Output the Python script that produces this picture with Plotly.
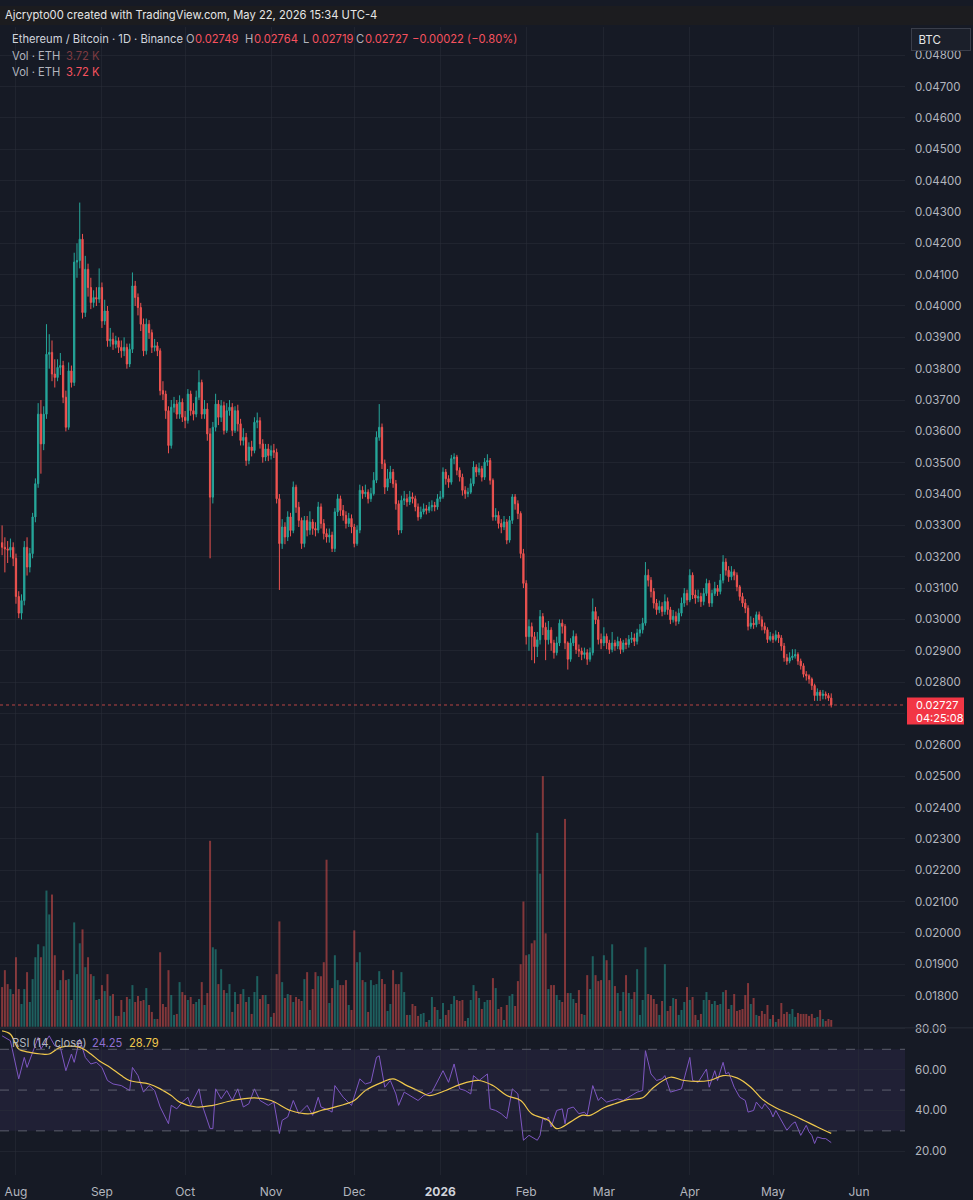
import pandas as pd
import plotly.graph_objects as go

W, H = 973, 1200

# ---------------- data (prices in units of 1e-5 BTC) ----------------
start_date = "2025-07-27"
first_open_e5 = 3245
close_e5 = [
    3230, 3225, 3221, 3230, 3195, 3073, 3020, 3060, 3230, 3167,
    3210, 3327, 3433, 3655, 3560, 3655, 3846, 3852, 3783, 3772,
    3804, 3810, 3709, 3613, 3793, 3756, 4140, 4145, 4213, 3979,
    4117, 4059, 4011, 4027, 4022, 4059, 3952, 3984, 3889, 3894,
    3878, 3889, 3868, 3857, 3868, 3815, 3862, 4064, 4027, 3995,
    3942, 3857, 3942, 3915, 3868, 3873, 3857, 3730, 3719, 3666,
    3555, 3677, 3687, 3655, 3693, 3645, 3635, 3719, 3666, 3655,
    3709, 3756, 3655, 3671, 3592, 3390, 3613, 3687, 3645, 3682,
    3603, 3666, 3677, 3603, 3666, 3624, 3571, 3581, 3507, 3550,
    3539, 3629, 3634, 3560, 3518, 3544, 3523, 3539, 3533, 3385,
    3242, 3295, 3263, 3327, 3284, 3422, 3358, 3316, 3242, 3316,
    3285, 3311, 3290, 3285, 3359, 3306, 3274, 3263, 3269, 3226,
    3343, 3385, 3348, 3332, 3306, 3322, 3295, 3242, 3285, 3412,
    3401, 3406, 3385, 3401, 3444, 3581, 3613, 3497, 3422, 3449,
    3470, 3433, 3369, 3285, 3380, 3385, 3375, 3391, 3385, 3359,
    3327, 3343, 3353, 3348, 3359, 3364, 3359, 3385, 3391, 3470,
    3449, 3438, 3513, 3518, 3476, 3454, 3412, 3401, 3406, 3433,
    3486, 3470, 3481, 3454, 3502, 3507, 3444, 3327, 3332, 3306,
    3295, 3311, 3253, 3316, 3391, 3369, 3338, 3210, 3115, 2945,
    2977, 2945, 2913, 2935, 3009, 2975, 2935, 2966, 2925, 2894,
    2925, 2988, 2978, 2925, 2873, 2925, 2946, 2904, 2899, 2888,
    2894, 2873, 2894, 3025, 2999, 2936, 2925, 2946, 2925, 2904,
    2925, 2915, 2930, 2904, 2925, 2920, 2936, 2941, 2930, 2957,
    2967, 2988, 3141, 3125, 3089, 3052, 3031, 3041, 3025, 3057,
    3031, 2999, 3010, 2994, 3020, 3052, 3083, 3062, 3141, 3078,
    3068, 3073, 3057, 3083, 3115, 3052, 3083, 3099, 3089, 3125,
    3183, 3157, 3136, 3152, 3141, 3104, 3073, 3052, 3036, 2978,
    2988, 2983, 3015, 2999, 2978, 2967, 2936, 2946, 2936, 2951,
    2941, 2915, 2878, 2867, 2878, 2883, 2888, 2867, 2852, 2825,
    2820, 2810, 2789, 2757, 2768, 2757, 2762, 2757, 2749, 2727,
]
high_e5 = [
    3300, 3262, 3250, 3258, 3246, 3210, 3090, 3080, 3250, 3262,
    3228, 3340, 3450, 3690, 3700, 3680, 3942, 3910, 3890, 3830,
    3830, 3850, 3825, 3730, 3820, 3810, 4170, 4200, 4330, 4230,
    4160, 4135, 4090, 4050, 4060, 4120, 4075, 4020, 4000, 3930,
    3915, 3905, 3900, 3890, 3900, 3880, 3880, 4107, 4080, 4040,
    4010, 3960, 3960, 3955, 3925, 3895, 3885, 3865, 3760, 3730,
    3680, 3700, 3710, 3700, 3715, 3705, 3665, 3735, 3730, 3690,
    3730, 3795, 3765, 3700, 3690, 3610, 3630, 3720, 3700, 3700,
    3695, 3690, 3700, 3690, 3680, 3685, 3640, 3610, 3595, 3565,
    3570, 3645, 3660, 3645, 3575, 3560, 3560, 3555, 3560, 3545,
    3400, 3320, 3310, 3345, 3340, 3440, 3430, 3375, 3325, 3330,
    3330, 3345, 3320, 3310, 3375, 3370, 3320, 3290, 3290, 3280,
    3355, 3400, 3395, 3365, 3345, 3340, 3335, 3305, 3300, 3430,
    3425, 3430, 3415, 3420, 3470, 3600, 3687, 3625, 3510, 3480,
    3490, 3480, 3445, 3380, 3395, 3410, 3400, 3410, 3405, 3395,
    3370, 3360, 3370, 3365, 3375, 3380, 3375, 3400, 3410, 3485,
    3480, 3460, 3525, 3530, 3525, 3485, 3465, 3425, 3420, 3450,
    3505, 3495, 3500, 3490, 3515, 3527, 3515, 3450, 3355, 3345,
    3320, 3330, 3320, 3330, 3400, 3400, 3380, 3345, 3225, 3125,
    3000, 2990, 2960, 2960, 3030, 3020, 2990, 2995, 2975, 2935,
    2945, 3000, 3000, 2985, 2930, 2940, 2965, 2955, 2920, 2910,
    2910, 2905, 2910, 3067, 3040, 3010, 2955, 2975, 2955, 2935,
    2960, 2935, 2945, 2940, 2935, 2940, 2950, 2960, 2955, 2970,
    2985, 3005, 3183, 3160, 3135, 3100, 3065, 3060, 3055, 3080,
    3070, 3040, 3030, 3025, 3035, 3070, 3100, 3095, 3160, 3150,
    3095, 3095, 3085, 3100, 3130, 3125, 3095, 3120, 3110, 3145,
    3205, 3195, 3170, 3170, 3160, 3150, 3110, 3085, 3065, 3045,
    3010, 3005, 3025, 3025, 3010, 2990, 2975, 2960, 2955, 2965,
    2960, 2950, 2925, 2890, 2895, 2905, 2905, 2895, 2875, 2860,
    2835, 2825, 2815, 2795, 2780, 2775, 2775, 2770, 2765, 2764,
]
low_e5 = [
    3205, 3150, 3180, 3198, 3170, 3050, 3004, 3000, 3045, 3140,
    3150, 3195, 3310, 3420, 3465, 3540, 3640, 3800, 3760, 3740,
    3760, 3780, 3690, 3600, 3605, 3740, 3745, 4090, 4120, 3960,
    3965, 4030, 3990, 3995, 4000, 4010, 3930, 3940, 3870, 3870,
    3860, 3865, 3850, 3835, 3840, 3800, 3805, 3850, 4000, 3970,
    3920, 3840, 3845, 3895, 3850, 3855, 3840, 3715, 3700, 3640,
    3530, 3545, 3660, 3640, 3640, 3630, 3610, 3625, 3650, 3635,
    3645, 3700, 3640, 3640, 3570, 3195, 3370, 3600, 3620, 3630,
    3590, 3595, 3650, 3585, 3595, 3600, 3555, 3555, 3490, 3495,
    3520, 3530, 3610, 3545, 3500, 3505, 3505, 3510, 3515, 3370,
    3094, 3225, 3240, 3250, 3265, 3275, 3340, 3295, 3225, 3230,
    3265, 3270, 3270, 3265, 3275, 3290, 3255, 3245, 3245, 3215,
    3215, 3330, 3330, 3315, 3290, 3295, 3275, 3230, 3235, 3275,
    3385, 3390, 3370, 3375, 3395, 3435, 3570, 3480, 3400, 3410,
    3435, 3420, 3350, 3270, 3275, 3365, 3360, 3365, 3370, 3345,
    3315, 3320, 3335, 3335, 3340, 3345, 3345, 3350, 3375, 3385,
    3430, 3420, 3430, 3495, 3460, 3440, 3395, 3385, 3390, 3400,
    3425, 3455, 3460, 3440, 3445, 3490, 3430, 3315, 3315, 3290,
    3275, 3285, 3240, 3245, 3305, 3350, 3320, 3195, 3100, 2920,
    2900, 2870, 2860, 2880, 2920, 2950, 2870, 2920, 2900, 2875,
    2885, 2915, 2955, 2905, 2840, 2865, 2915, 2890, 2880, 2870,
    2875, 2855, 2865, 2885, 2985, 2920, 2905, 2915, 2905, 2890,
    2895, 2900, 2905, 2890, 2895, 2905, 2910, 2925, 2915, 2920,
    2945, 2955, 2980, 3105, 3070, 3035, 3015, 3020, 3010, 3015,
    3015, 2985, 2990, 2980, 2985, 3010, 3040, 3045, 3055, 3065,
    3050, 3055, 3040, 3045, 3075, 3040, 3040, 3075, 3075, 3080,
    3115, 3140, 3120, 3125, 3125, 3090, 3060, 3040, 3020, 2965,
    2970, 2970, 2975, 2985, 2965, 2955, 2925, 2930, 2925, 2930,
    2925, 2900, 2865, 2855, 2860, 2870, 2875, 2855, 2840, 2815,
    2805, 2795, 2775, 2740, 2740, 2740, 2745, 2745, 2740, 2719,
]
# daily volume (relative units)
volume = [
    40,
    57, 43, 38, 33, 70, 38, 23, 38, 55, 25,
    48, 70, 83, 70, 81, 137, 113, 133, 72, 37,
    47, 57, 47, 48, 27, 105, 53, 84, 98, 60,
    70, 53, 51, 27, 28, 42, 36, 53, 31, 33,
    11, 11, 27, 15, 30, 28, 42, 25, 31, 26,
    27, 39, 22, 15, 8, 8, 75, 23, 20, 57,
    32, 12, 13, 45, 35, 32, 27, 30, 23, 25,
    28, 45, 22, 34, 187, 80, 78, 43, 58, 37,
    34, 43, 15, 35, 23, 33, 38, 25, 30, 13,
    35, 51, 28, 32, 32, 23, 10, 14, 53, 106,
    45, 29, 33, 32, 25, 30, 28, 26, 48, 55,
    17, 38, 55, 51, 51, 65, 168, 24, 39, 72,
    47, 42, 42, 47, 22, 17, 97, 65, 75, 47,
    45, 15, 47, 42, 43, 56, 48, 43, 16, 23,
    57, 43, 43, 55, 35, 12, 12, 23, 21, 11,
    13, 14, 5, 7, 30, 20, 17, 8, 24, 12,
    17,
    23, 31, 27, 26, 27, 6, 9, 27, 42, 36,
    29, 18, 25, 27, 27, 49, 39, 18, 20, 7,
    22, 31, 33, 21, 46, 63, 126, 72, 73, 84,
    87, 195, 154, 252, 94, 38, 42, 42, 32, 27,
    25, 209, 34, 34, 28, 24, 37, 13, 12, 52,
    38, 71, 52, 46, 47, 72, 67, 47, 83, 41,
    34, 16, 35, 52, 34, 28, 35, 58, 12, 27,
    80, 33, 32, 28, 23, 12, 26, 63, 16, 21,
    29, 28, 12, 17, 25, 40, 27, 30, 12, 7,
    13, 27, 35, 27, 23, 26, 22, 23, 35, 37,
    18, 22, 33, 16, 17, 18, 32, 44, 23, 29,
    12, 11, 16, 13, 22, 8, 12, 5, 8, 24,
    13, 15, 13, 18, 10, 14, 13, 13, 13, 11,
    13, 9, 10, 17, 8, 6, 8, 7,
]
# RSI(14) readings: day index -> value
rsi_day = [0, 3, 6, 8, 9, 11, 13, 14, 17, 19, 21, 23, 25, 26, 28, 30, 32, 34, 36, 38,
           40, 43, 46, 47, 49, 51, 53, 55, 57, 60, 61, 63, 65, 67, 68, 71, 72, 75, 76, 77,
           79, 81, 83, 85, 87, 89, 91, 93, 96, 98, 100, 101, 103, 105, 106, 107, 110, 112, 114, 115,
           118, 119, 120, 123, 126, 129, 131, 133, 135, 136, 138, 140, 142, 143, 145, 147, 150, 152, 155, 159,
           161, 163, 165, 167, 169, 170, 172, 175, 176, 178, 180, 182, 184, 186, 188, 190, 191, 193, 194, 195,
           196, 197, 198, 200, 202, 203, 204, 206, 208, 210, 211, 213, 215, 216, 218, 220, 222, 224, 226, 229,
           231, 232, 234, 236, 238, 239, 241, 243, 245, 248, 249, 251, 254, 255, 257, 258, 260, 261, 262, 264,
           266, 268, 269, 271, 272, 274, 275, 277, 278, 279, 281, 283, 285, 286, 288, 290, 291, 292, 293, 294,
           296, 297, 299]
rsi_val = [76.6, 74.2, 55.5, 66.0, 61.1, 69.0, 75.8, 70.1, 76.6, 71.7, 70.9, 59.5, 67.7, 63.6, 75.0, 66.0, 62.8, 63.6, 61.1, 54.7,
           53.0, 52.2, 49.8, 61.1, 57.1, 49.0, 52.2, 49.8, 41.7, 33.5, 42.5, 40.8, 44.1, 46.5, 42.5, 50.6, 43.3, 31.1, 31.1, 50.6,
           45.7, 49.8, 44.9, 50.6, 41.7, 43.3, 50.6, 44.9, 42.5, 44.1, 28.7, 35.2, 36.8, 44.9, 41.7, 38.4, 42.5, 37.6, 46.5, 41.7,
           40.0, 39.2, 52.2, 46.5, 42.5, 55.5, 53.0, 53.8, 66.0, 66.8, 51.4, 54.7, 48.1, 42.5, 49.0, 47.3, 44.9, 47.3, 49.0, 59.5,
           53.8, 62.8, 50.6, 49.8, 48.1, 57.1, 54.7, 57.9, 40.8, 40.0, 38.4, 36.0, 50.6, 48.1, 25.4, 27.8, 27.0, 25.4, 27.8, 36.0,
           35.2, 36.8, 31.9, 40.0, 40.8, 33.5, 40.8, 41.7, 38.4, 39.2, 37.6, 52.2, 44.9, 46.5, 44.1, 44.9, 45.7, 44.9, 46.5, 49.0,
           49.8, 69.3, 57.9, 54.7, 55.5, 57.1, 49.0, 49.8, 50.6, 66.0, 54.7, 53.8, 60.3, 51.4, 59.5, 54.7, 63.6, 57.9, 58.7, 51.4,
           46.5, 44.9, 39.2, 40.0, 44.1, 40.8, 43.3, 40.0, 36.8, 40.0, 35.2, 30.3, 33.5, 34.4, 27.8, 32.7, 29.5, 27.8, 23.8, 27.0,
           26.2, 26.2, 24.25]
# RSI-based moving average readings
rsi_ma_day = [0, 3, 6, 10, 14, 17, 21, 28, 32, 35, 39, 43, 46, 53, 57, 61, 64, 70, 76, 83,
              91, 97, 104, 111, 115, 119, 127, 131, 137, 141, 146, 151, 154, 160, 165, 172, 177, 182, 187, 191,
              197, 200, 205, 209, 212, 217, 221, 226, 231, 235, 241, 246, 255, 260, 265, 270, 274, 279, 284, 289,
              294, 299]
rsi_ma_val = [79.0, 77.4, 70.1, 68.5, 67.7, 67.7, 70.9, 70.9, 67.7, 64.4, 61.1, 57.1, 54.7, 53.0, 50.6, 47.3, 44.1, 41.7, 42.5, 44.9,
              46.2, 44.9, 40.0, 38.4, 40.0, 41.3, 44.9, 49.8, 53.8, 55.5, 52.2, 49.0, 47.3, 49.8, 52.7, 54.7, 52.2, 47.3, 44.9, 38.4,
              35.2, 31.1, 34.4, 37.6, 37.6, 41.3, 43.3, 45.4, 46.2, 51.4, 56.3, 54.7, 54.7, 57.1, 56.0, 51.4, 45.7, 41.3, 38.4, 35.2,
              31.9, 28.79]

month_ticks = ["2025-08-01", "2025-09-01", "2025-10-01", "2025-11-01", "2025-12-01", "2026-01-01",
               "2026-02-01", "2026-03-01", "2026-04-01", "2026-05-01", "2026-06-01"]
month_labels = ["Aug", "Sep", "Oct", "Nov", "Dec", "<b><span style='color:#d1d4dc'>2026</span></b>",
                "Feb", "Mar", "Apr", "May", "Jun"]
# 0.02700 sits behind the last-price label, so its text is hidden (grid line kept)
price_ticks = [0.018, 0.019, 0.020, 0.021, 0.022, 0.023, 0.024, 0.025, 0.026, 0.027, 0.028,
               0.029, 0.030, 0.031, 0.032, 0.033, 0.034, 0.035, 0.036, 0.037, 0.038, 0.039,
               0.040, 0.041, 0.042, 0.043, 0.044, 0.045, 0.046, 0.047, 0.048]
price_tick_labels = ["0.01800", "0.01900", "0.02000", "0.02100", "0.02200", "0.02300", "0.02400",
                     "0.02500", "0.02600", "", "0.02800", "0.02900", "0.03000", "0.03100",
                     "0.03200", "0.03300", "0.03400", "0.03500", "0.03600", "0.03700", "0.03800",
                     "0.03900", "0.04000", "0.04100", "0.04200", "0.04300", "0.04400", "0.04500",
                     "0.04600", "0.04700", "0.04800"]
rsi_ticks = [20, 40, 60, 80]
rsi_tick_labels = ["20.00", "40.00", "60.00", "80.00"]
last_price = 0.02727

# ---------------- derived ----------------
E5 = 1e-5
dates = pd.date_range(start_date, periods=len(close_e5), freq="D")
open_e5 = [first_open_e5] + close_e5[:-1]
o = [v * E5 for v in open_e5]
c = [v * E5 for v in close_e5]
h = [v * E5 for v in high_e5]
l = [v * E5 for v in low_e5]

UP = "#26a69a"
DN = "#ef5350"
UP_V = "rgba(38,166,154,0.5)"
DN_V = "rgba(239,83,80,0.5)"
vol_colors = [UP_V if cc >= oo else DN_V for oo, cc in zip(o, c)]

BG = "#161a25"
GRID = "rgba(42,46,57,0.55)"
TXT = "#b2b5be"
FONT = "Inter"

def px(x):
    return x / W

def py(y):
    return 1 - y / H

t0 = pd.Timestamp(start_date)
x_range = [t0 + pd.Timedelta(days=-0.757), t0 + pd.Timedelta(days=325.6)]

fig = go.Figure()

fig.add_trace(go.Bar(
    x=dates, y=volume, marker=dict(color=vol_colors, line=dict(width=0)),
    width=0.72 * 86400000, xaxis="x", yaxis="y3", hoverinfo="skip", showlegend=False,
))
fig.add_trace(go.Candlestick(
    x=dates, open=o, high=h, low=l, close=c,
    increasing=dict(line=dict(color=UP, width=1), fillcolor=UP),
    decreasing=dict(line=dict(color=DN, width=1), fillcolor=DN),
    whiskerwidth=0, xaxis="x", yaxis="y", showlegend=False, hoverinfo="skip",
))
fig.add_trace(go.Scatter(
    x=[dates[d] for d in rsi_day], y=rsi_val, mode="lines",
    line=dict(color="#7e57c2", width=1), xaxis="x2", yaxis="y2", showlegend=False, hoverinfo="skip",
))
fig.add_trace(go.Scatter(
    x=[dates[d] for d in rsi_ma_day], y=rsi_ma_val, mode="lines", line_shape="spline",
    line=dict(color="#f0c84c", width=1.2), xaxis="x2", yaxis="y2", showlegend=False, hoverinfo="skip",
))

shapes = [
    # header bar
    dict(type="rect", xref="paper", yref="paper", x0=0, x1=1, y0=py(19), y1=1,
         fillcolor="#1c1c1f", line=dict(width=0), layer="below"),
    # RSI band
    dict(type="rect", xref="x2 domain", yref="y2", x0=0, x1=1, y0=30, y1=70,
         fillcolor="rgba(126,87,194,0.10)", line=dict(width=0), layer="below"),
    # pane separator
    dict(type="line", xref="paper", yref="paper", x0=0, x1=1, y0=py(1027), y1=py(1027),
         line=dict(color="#2a2e39", width=1)),
    # last price line
    dict(type="line", xref="x domain", yref="y", x0=0, x1=1, y0=last_price, y1=last_price,
         line=dict(color="rgba(239,83,80,0.75)", width=1, dash="dot")),
]
for lvl in (70, 50, 30):
    shapes.append(dict(type="line", xref="x2 domain", yref="y2", x0=0, x1=1, y0=lvl, y1=lvl,
                       line=dict(color="rgba(120,123,134,0.7)", width=1, dash="dash")))

RED_TXT = "#f7525f"
LS = 11.2
annotations = []

def txt(x, y, s, color, size=LS, **kw):
    annotations.append(dict(xref="paper", yref="paper", x=px(x), y=py(y), text=s,
                            showarrow=False, xanchor="left", yanchor="middle",
                            font=dict(family=FONT, size=size, color=color), **kw))

txt(3, 9.5, "Ajcrypto00 created with TradingView.com, May 22, 2026 15:34 UTC-4", "#e6e6e6", 11.2)
txt(10, 33, "Ethereum / Bitcoin · 1D · Binance", "#d1d4dc")
txt(184, 33, "O", "#b2b5be")
txt(193, 33, "0.02749", RED_TXT)
txt(243, 33, "H", "#b2b5be")
txt(252, 33, "0.02764", RED_TXT)
txt(301, 33, "L", "#b2b5be")
txt(310, 33, "0.02719", RED_TXT)
txt(354, 33, "C", "#b2b5be")
txt(363, 33, "0.02727", RED_TXT)
txt(410, 33, "−0.00022 (−0.80%)", RED_TXT)
txt(10, 50, "Vol · ETH", "#b2b5be")
txt(64, 50, "3.72 K", "#7d3a41")
txt(10, 66, "Vol · ETH", "#b2b5be")
txt(64, 66, "3.72 K", RED_TXT)
txt(10, 1042, "RSI (14, close)", "#b2b5be")
txt(90, 1042, "24.25", "#8e6fd0")
txt(127, 1042, "28.79", "#f0c84c")

# BTC unit box
annotations.append(dict(xref="paper", yref="paper", x=px(910.5), y=py(22.5), xanchor="left", yanchor="top",
                        text="&nbsp;&nbsp;BTC", align="left", showarrow=False, width=58, height=21,
                        bgcolor="#1b1f2a", bordercolor="#3a3e4a", borderwidth=1, borderpad=0,
                        font=dict(family=FONT, size=11.5, color="#e6e6e6")))
# last price label: box + two text lines
shapes.append(dict(type="rect", xref="paper", yref="paper", x0=px(907), x1=px(964), y0=py(722), y1=py(695),
                   fillcolor="#f23645", line=dict(width=0), layer="above"))
txt(914, 702.5, "0.02727", "#ffffff", 11)
txt(914, 715.5, "04:25:08", "#ffffff", 11)

fig.update_layout(
    width=W, height=H,
    margin=dict(l=0, r=0, t=0, b=0),
    paper_bgcolor=BG, plot_bgcolor=BG,
    hovermode=False, showlegend=False, boxgap=0.35,
    font=dict(family=FONT, color=TXT, size=12),
    shapes=shapes, annotations=annotations,
    xaxis=dict(domain=[0, px(905)], range=x_range, type="date", anchor="y",
               tickvals=month_ticks, showticklabels=False, showgrid=True, gridcolor=GRID,
               zeroline=False, showline=False, rangeslider=dict(visible=False), fixedrange=True),
    xaxis2=dict(domain=[0, px(905)], matches="x", type="date", anchor="y2",
                tickvals=month_ticks, ticktext=month_labels, showgrid=True, gridcolor=GRID,
                tickfont=dict(family=FONT, size=12, color=TXT), ticks="", ticklabelstandoff=8,
                zeroline=False, showline=False),
    yaxis=dict(domain=[py(1026), py(21)], range=[0.017, 0.048905], side="right", anchor="x",
               tickvals=price_ticks, ticktext=price_tick_labels, showgrid=True, gridcolor=GRID,
               tickfont=dict(family=FONT, size=11.5, color=TXT), ticks="", ticklabelstandoff=9,
               zeroline=False, showline=False),
    yaxis2=dict(domain=[py(1175), py(1027)], range=[8.3, 80.5], side="right", anchor="x2",
                tickvals=rsi_ticks, ticktext=rsi_tick_labels, showgrid=True, gridcolor=GRID,
                tickfont=dict(family=FONT, size=11.5, color=TXT), ticks="", ticklabelstandoff=9,
                zeroline=False, showline=False),
    yaxis3=dict(overlaying="y", anchor="x", range=[0, 1005], visible=False, showgrid=False),
)

fig.write_html(
    "out.html",
    config={"displayModeBar": False, "staticPlot": True},
    post_script="document.body.style.margin='0px';document.body.style.padding='0px';"
                "document.body.style.overflow='hidden';",
)
